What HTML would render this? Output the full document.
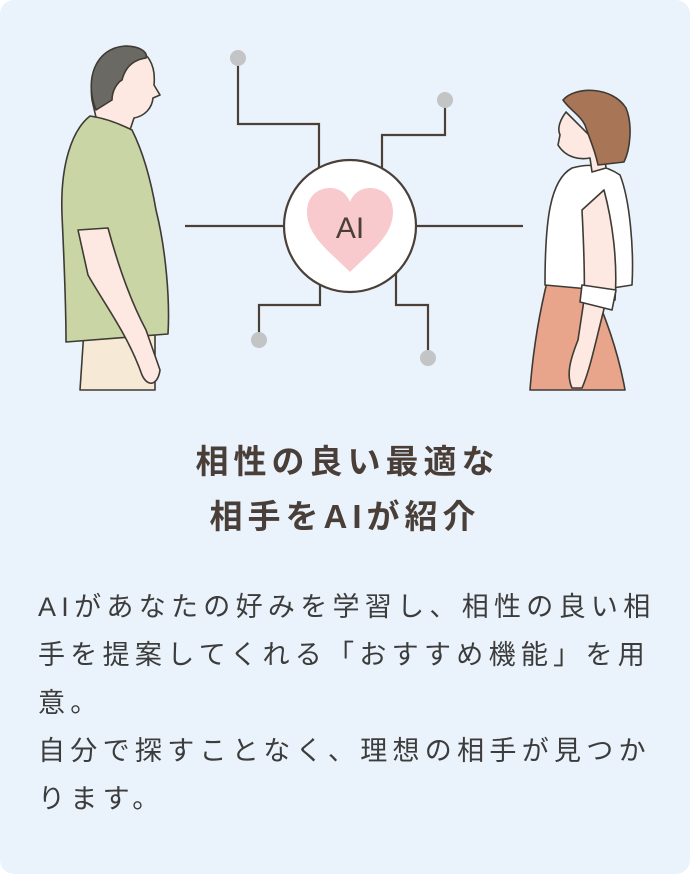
<!DOCTYPE html>
<html><head><meta charset="utf-8"><style>
html,body{margin:0;padding:0;background:#fff}
.card{position:relative;width:690px;height:874px;background:#eaf3fb;border-radius:14px;overflow:hidden;font-family:"Liberation Sans","Noto Sans CJK JP",sans-serif}
svg{position:absolute;left:0;top:0}
.title{position:absolute;left:0;width:690px;top:434px;text-align:center;font-size:33px;font-weight:bold;color:#4a3f38;line-height:55px;letter-spacing:5px;text-indent:5px}
.body{position:absolute;left:38px;width:640px;top:583px;font-size:27px;color:#3c3c3c;line-height:48px;letter-spacing:5.3px;white-space:nowrap}
</style></head><body><div class="card">
<svg width="690" height="400" viewBox="0 0 690 400">
<g fill="none" stroke="#4a4038" stroke-width="2.2">
<polyline points="238,58 238,124 319,124 319,168"/>
<polyline points="445,100 445,135 382,135 382,168"/>
<polyline points="320,282 320,305 259,305 259,340"/>
<polyline points="396,272 396,305 428,305 428,358"/>
<line x1="185" y1="226" x2="284" y2="226"/>
<line x1="417" y1="226" x2="523" y2="226"/>
</g>
<g fill="#c2c4c6"><circle cx="238" cy="58" r="8"/><circle cx="445" cy="100" r="8"/><circle cx="259" cy="340" r="8"/><circle cx="428" cy="358" r="8"/></g>
<circle cx="350" cy="226" r="66" fill="#fff" stroke="#4a4038" stroke-width="2.2"/>
<path d="M350,272 C330,252 307,236 307,212 C307,196 318,188 330,188 C340,188 347,194 350,202 C353,194 360,188 370,188 C382,188 393,196 393,212 C393,236 370,252 350,272Z" fill="#f8c9cd"/>
<text x="350" y="238" text-anchor="middle" font-family="Liberation Sans,sans-serif" font-size="30" fill="#4a4038">AI</text>
<g stroke="#3e3a34" stroke-width="1.6" stroke-linejoin="round">
<path d="M80,390 L84,330 L155,328 L155,390Z" fill="#f6ead6"/>
<path d="M92,100 C88,70 105,48 130,48 C148,50 156,65 154,85 L160,95 L153,98 C152,108 145,116 134,118 L130,130 L98,126Z" fill="#fde9e2"/>
<path d="M96,110 C84,80 95,48 125,46 C140,46 148,52 146,58 C132,60 125,68 122,80 C118,82 112,90 112,100Z" fill="#6b6963"/>
<path d="M90,116 C72,130 60,165 62,215 C64,260 66,300 66,342 L168,334 C170,300 166,250 156,210 C150,175 142,150 132,130 C120,124 104,118 90,116Z" fill="#c9d5a4"/>
<path d="M78,230 L108,228 C118,265 130,300 146,330 L160,370 C158,385 148,388 142,375 C128,335 105,305 88,275Z" fill="#fde9e2"/>
</g>
<g stroke="#3e3a34" stroke-width="1.6" stroke-linejoin="round">
<path d="M548,278 L590,282 C605,315 618,350 625,390 L530,390 C533,350 540,310 548,278Z" fill="#e9a58c"/>
<path d="M572,168 C550,180 545,220 545,285 L600,290 L632,285 C634,250 630,200 620,175 C605,165 590,163 572,168Z" fill="#fff"/>
<path d="M566,112 C560,120 557,128 560,135 L558,145 C566,158 580,160 590,158 L592,172 L606,168 L604,150 Z" fill="#fde9e2"/>
<path d="M563,100 C575,86 612,86 626,108 C633,125 630,150 624,162 L598,165 C595,150 590,140 585,125 C580,115 570,110 563,100Z" fill="#a87656"/>
<path d="M582,210 C584,250 585,280 584,300 L578,340 C570,360 566,375 572,388 L582,388 C590,370 596,340 605,305 L615,300 C618,260 612,220 604,190Z" fill="#fde9e2"/>
<path d="M582,285 L616,290 L612,310 L580,302Z" fill="#fff"/>
</g>
</svg>
<div class="title">相性の良い最適な<br>相手をAIが紹介</div>
<div class="body">AIがあなたの好みを学習し、相性の良い相<br>手を提案してくれる「おすすめ機能」を用<br>意。<br>自分で探すことなく、理想の相手が見つか<br>ります。</div>
</div></body></html>
